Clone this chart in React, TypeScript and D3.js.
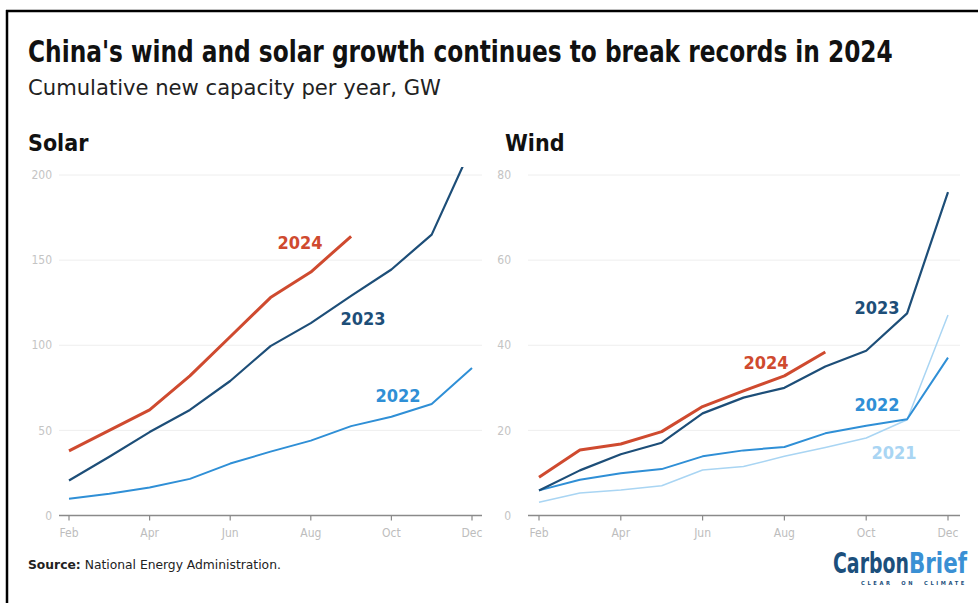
import React, { useLayoutEffect, useRef, useState } from "react";
import * as d3 from "d3";

const months = ["Feb", "Mar", "Apr", "May", "Jun", "Jul", "Aug", "Sep", "Oct", "Nov", "Dec"];
const tickMonths = ["Feb", "Apr", "Jun", "Aug", "Oct", "Dec"];

const solar2024 = [38, 50, 62, 82, 105, 128, 143, 164];
const solar2023 = [20.6, 34.5, 49, 62, 79, 99.5, 113, 129, 144.5, 165, 217];
const solar2022 = [9.8, 12.8, 16.5, 21.5, 30.5, 37.5, 44, 52.5, 58, 65.5, 86.7];

const wind2024 = [9.0, 15.4, 16.8, 19.7, 25.6, 29.3, 32.8, 38.4];
const wind2023 = [5.9, 10.6, 14.4, 17.1, 24.0, 27.7, 30.0, 35.0, 38.7, 47.5, 76.0];
const wind2022 = [5.9, 8.4, 9.9, 10.9, 13.9, 15.3, 16.1, 19.3, 21.1, 22.6, 37.1];
const wind2021 = [3.1, 5.3, 6.0, 7.0, 10.7, 11.5, 13.9, 16.0, 18.2, 22.5, 47.1];

const solarTicks = [0, 50, 100, 150, 200];
const windTicks = [0, 20, 40, 60, 80];

const C24 = "#cf4a2f";
const C23 = "#1d4e78";
const C22 = "#2f8fd6";
const C21 = "#a9d5f3";

const COND = "'DejaVu Sans Condensed', 'Liberation Sans Narrow', 'Roboto', sans-serif";
const LBL = "'DejaVu Sans Condensed', 'Open Sans', sans-serif";

function FitText(props: {
  x: number;
  y: number;
  width: number;
  fontSize: number;
  fontWeight?: string;
  fill: string;
  family?: string;
  letterSpacing?: number;
  children: React.ReactNode;
}) {
  const ref = useRef<SVGTextElement>(null);
  const [sx, setSx] = useState(1);
  useLayoutEffect(() => {
    if (ref.current) {
      const len = ref.current.getComputedTextLength();
      if (len > 0) setSx(props.width / len);
    }
  }, [props.width]);
  return (
    <text
      ref={ref}
      transform={`translate(${props.x},${props.y}) scale(${sx},1)`}
      fontFamily={props.family || COND}
      fontWeight={props.fontWeight || "normal"}
      fontSize={props.fontSize}
      letterSpacing={props.letterSpacing || 0}
      fill={props.fill}
    >
      {props.children}
    </text>
  );
}

type Series = { values: number[]; color: string; width: number; label: string; lx: number; ly: number };

function Panel(props: {
  title: string;
  titleX: number;
  x0: number;
  x1: number;
  gridX0: number;
  gridX1: number;
  yLabelX: number;
  yMax: number;
  ticks: number[];
  clipTop: number;
  series: Series[];
  id: string;
}) {
  const { title, titleX, x0, x1, gridX0, gridX1, yLabelX, yMax, ticks, clipTop, series, id } = props;
  const x = d3.scalePoint<string>().domain(months).range([x0, x1]);
  const y = d3.scaleLinear().domain([0, yMax]).range([515.5, 175]);
  const line = d3
    .line<number>()
    .x((_, i) => x(months[i]) as number)
    .y((d) => y(d));
  return (
    <g>
      <text x={titleX} y={151} fontFamily={COND} fontWeight="bold" fontSize={23} fill="#111">
        {title}
      </text>
      {ticks.map((t) => (
        <g key={t}>
          {t > 0 && <line x1={gridX0} x2={gridX1} y1={y(t)} y2={y(t)} stroke="#eeeeee" strokeWidth={1} />}
          <text x={yLabelX} y={y(t)} dy="0.35em" textAnchor="end" fontFamily={COND} fontSize={12} fill="#c4c4c4">
            {t}
          </text>
        </g>
      ))}
      <line x1={gridX0} x2={gridX1} y1={y(0)} y2={y(0)} stroke="#8a8a8a" strokeWidth={1.5} />
      {tickMonths.map((m) => (
        <g key={m}>
          <line x1={x(m)} x2={x(m)} y1={y(0)} y2={y(0) + 5} stroke="#8a8a8a" strokeWidth={1.2} />
          <text x={x(m)} y={537} textAnchor="middle" fontFamily={COND} fontSize={12} fill="#bdbdbd">
            {m}
          </text>
        </g>
      ))}
      <clipPath id={id}>
        <rect x={gridX0 - 10} y={clipTop} width={gridX1 - gridX0 + 20} height={515.5 - clipTop + 10} />
      </clipPath>
      <g clipPath={`url(#${id})`}>
        {series.map((s) => (
          <path
            key={s.label}
            d={line(s.values) || ""}
            fill="none"
            stroke={s.color}
            strokeWidth={s.width}
            strokeLinejoin="round"
          />
        ))}
      </g>
      {series.map((s) => (
        <text
          key={s.label + "l"}
          x={s.lx}
          y={s.ly}
          dy="0.35em"
          textAnchor="middle"
          fontFamily={LBL}
          fontWeight="bold"
          fontSize={18}
          fill={s.color}
        >
          {s.label}
        </text>
      ))}
    </g>
  );
}

export default function App() {
  return (
    <svg
      width={978}
      height={603}
      style={{ position: "absolute", left: 0, top: 0, background: "#fff" }}
    >
      <rect x={0} y={0} width={978} height={603} fill="#fff" />
      <line x1={6} x2={978} y1={11} y2={11} stroke="#000" strokeWidth={2.5} />
      <line x1={7} x2={7} y1={10} y2={603} stroke="#000" strokeWidth={2.5} />
      <FitText x={28} y={62} width={865} fontSize={31} fontWeight="bold" fill="#111">
        China's wind and solar growth continues to break records in 2024
      </FitText>
      <FitText x={28} y={95} width={413} fontSize={21} fill="#222">
        Cumulative new capacity per year, GW
      </FitText>
      <Panel
        id="clipSolar"
        title="Solar"
        titleX={28}
        x0={69}
        x1={472}
        gridX0={59}
        gridX1={482}
        yLabelX={52}
        yMax={200}
        ticks={solarTicks}
        clipTop={167}
        series={[
          { values: solar2022, color: C22, width: 2, label: "2022", lx: 398, ly: 396 },
          { values: solar2023, color: C23, width: 2.2, label: "2023", lx: 363, ly: 319 },
          { values: solar2024, color: C24, width: 3, label: "2024", lx: 300, ly: 243 },
        ]}
      />
      <Panel
        id="clipWind"
        title="Wind"
        titleX={505}
        x0={539}
        x1={948}
        gridX0={528}
        gridX1={960}
        yLabelX={511}
        yMax={80}
        ticks={windTicks}
        clipTop={160}
        series={[
          { values: wind2021, color: C21, width: 1.5, label: "2021", lx: 894, ly: 453 },
          { values: wind2022, color: C22, width: 2, label: "2022", lx: 877, ly: 405 },
          { values: wind2023, color: C23, width: 2.2, label: "2023", lx: 877, ly: 308 },
          { values: wind2024, color: C24, width: 3, label: "2024", lx: 766, ly: 363 },
        ]}
      />
      <FitText x={28} y={569} width={253} fontSize={13} fill="#222">
        <tspan fontWeight="bold">Source:</tspan> National Energy Administration.
      </FitText>
      <FitText x={833} y={573} width={76} fontSize={29} fontWeight="bold" fill="#1c4f7c">
        Carbon
      </FitText>
      <FitText x={909} y={573} width={58} fontSize={29} fontWeight="bold" fill="#3a90d4">
        Brief
      </FitText>
      <FitText x={861} y={585} width={106} fontSize={5.5} fontWeight="bold" fill="#1c4f7c" family={LBL} letterSpacing={2.5}>
        {"CLEAR\u00a0\u00a0ON\u00a0\u00a0CLIMATE"}
      </FitText>
    </svg>
  );
}
